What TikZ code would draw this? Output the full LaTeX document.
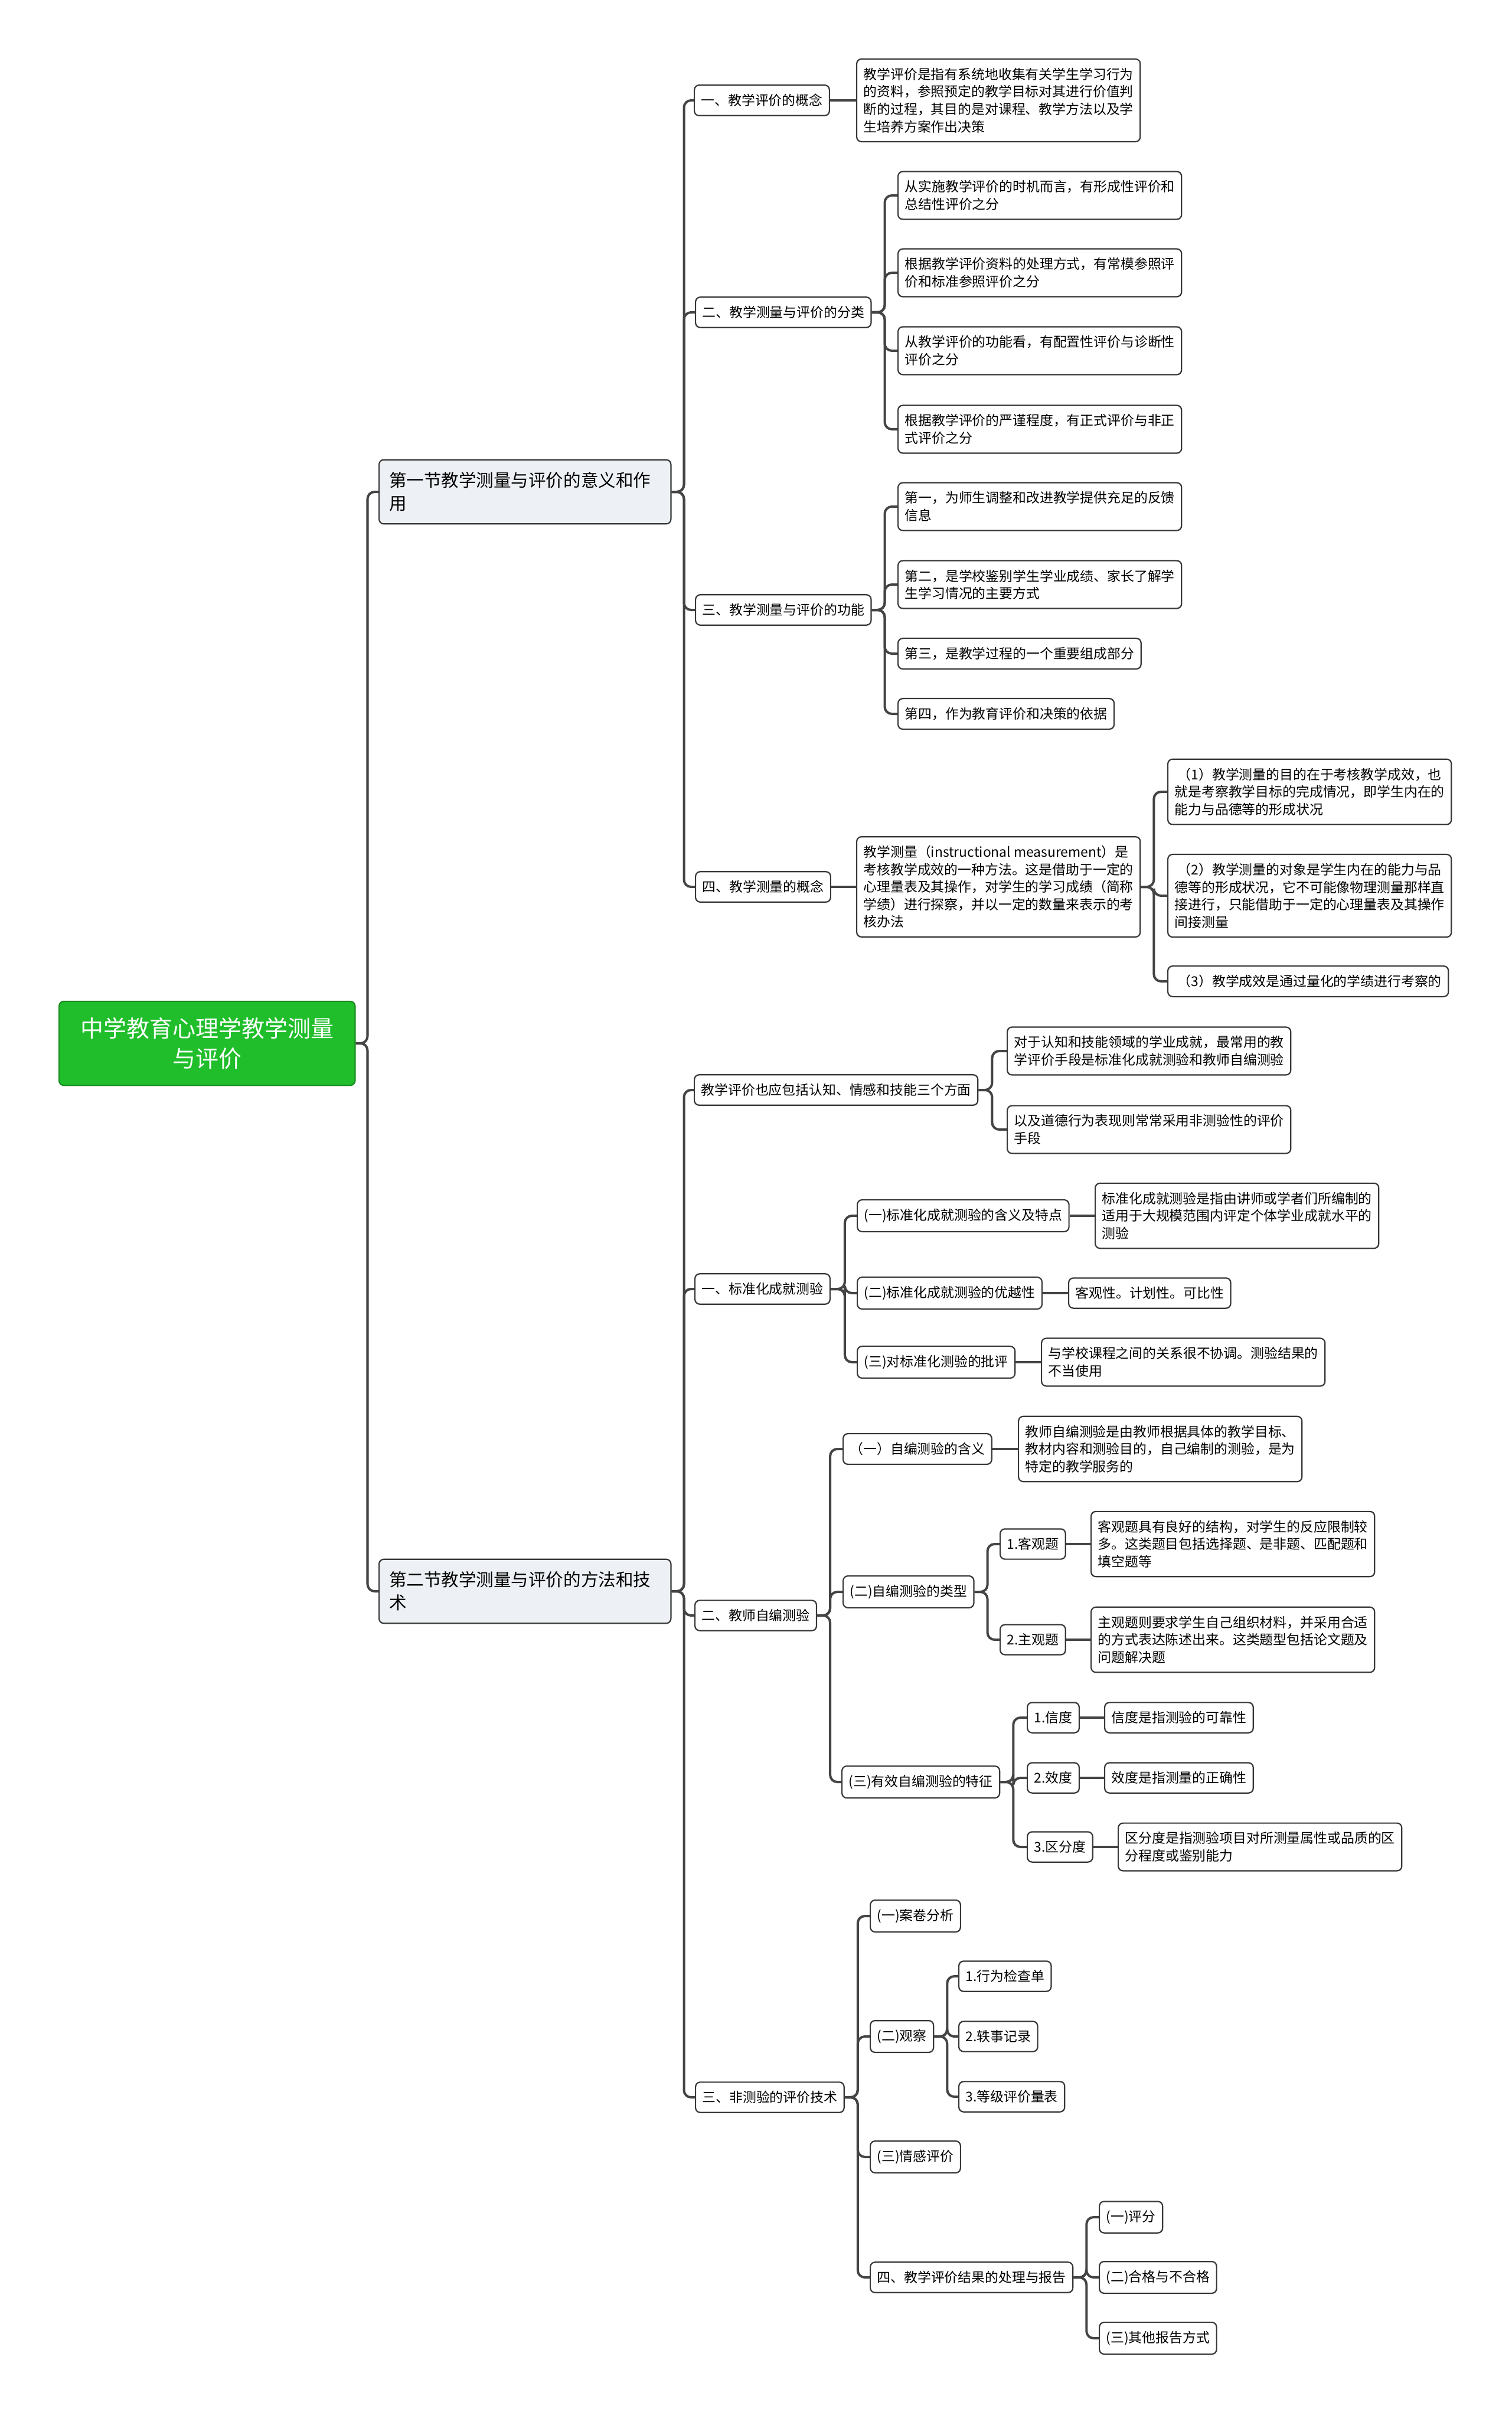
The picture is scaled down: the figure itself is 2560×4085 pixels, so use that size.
\documentclass[tikz,border=0pt]{standalone}
\usepackage{fontspec}
\newfontfamily\cjk{Noto Sans CJK SC}
\newcommand\leaffont{\cjk\fontsize{6.5pt}{8.4pt}\selectfont}
\newcommand\secfont{\cjk\fontsize{8.4pt}{11.1pt}\selectfont}
\newcommand\rootfont{\cjk\fontsize{11.1pt}{14.7pt}\selectfont}
\definecolor{linkgray}{RGB}{68,68,68}
\definecolor{boxline}{RGB}{56,56,56}
\definecolor{secfill}{RGB}{237,240,244}
\definecolor{rootgreen}{RGB}{31,190,42}
\definecolor{rootline}{RGB}{24,140,32}

\begin{document}
\begin{tikzpicture}[
  x=0.01cm, y=-0.01cm,
  box/.style={draw=boxline, line width=0.022cm, rounded corners=0.08cm, fill=white,
    inner xsep=0.115cm, inner ysep=0.15cm, align=left, font=\leaffont, anchor=west},
  sec/.style={box, fill=secfill, font=\secfont, text width=4.6cm,
    inner xsep=0.17cm, inner ysep=0.21cm},
  root/.style={box, fill=rootgreen, draw=rootline, text=white, font=\rootfont,
    align=center, text width=4.33cm, inner xsep=0.34cm, inner ysep=0.27cm},
  link/.style={draw=linkgray, line width=0.04cm, rounded corners=0.12cm},
]
\useasboundingbox (0,0) rectangle (2560,4085);

\node[root] (root) at (99,1767) {中学教育心理学教学测量\\与评价};
\node[sec] (secA) at (641,833) {第一节教学测量与评价的意义和作\\用};
\node[sec] (secB) at (641,2695) {第二节教学测量与评价的方法和技\\术};

\node[box] (defn) at (1175,170) {一、教学评价的概念};
\node[box] (defnT) at (1450,170) {教学评价是指有系统地收集有关学生学习行为\\的资料，参照预定的教学目标对其进行价值判\\断的过程，其目的是对课程、教学方法以及学\\生培养方案作出决策};

\node[box] (types) at (1177,529) {二、教学测量与评价的分类};
\node[box] (typeA) at (1520,331) {从实施教学评价的时机而言，有形成性评价和\\总结性评价之分};
\node[box] (typeB) at (1520,462) {根据教学评价资料的处理方式，有常模参照评\\价和标准参照评价之分};
\node[box] (typeC) at (1520,594) {从教学评价的功能看，有配置性评价与诊断性\\评价之分};
\node[box] (typeD) at (1520,727) {根据教学评价的严谨程度，有正式评价与非正\\式评价之分};

\node[box] (funcs) at (1177,1033) {三、教学测量与评价的功能};
\node[box] (funcA) at (1520,858) {第一，为师生调整和改进教学提供充足的反馈\\信息};
\node[box] (funcB) at (1520,990) {第二，是学校鉴别学生学业成绩、家长了解学\\生学习情况的主要方式};
\node[box] (funcC) at (1520,1107) {第三，是教学过程的一个重要组成部分};
\node[box] (funcD) at (1520,1209) {第四，作为教育评价和决策的依据};

\node[box] (meas) at (1177,1502) {四、教学测量的概念};
\node[box] (measT) at (1450,1502) {教学测量（instructional measurement）是\\考核教学成效的一种方法。这是借助于一定的\\心理量表及其操作，对学生的学习成绩（简称\\学绩）进行探察，并以一定的数量来表示的考\\核办法};
\node[box] (measA) at (1977,1341) {\ （1）教学测量的目的在于考核教学成效，也\\就是考察教学目标的完成情况，即学生内在的\\能力与品德等的形成状况};
\node[box] (measB) at (1977,1517) {\ （2）教学测量的对象是学生内在的能力与品\\德等的形成状况，它不可能像物理测量那样直\\接进行，只能借助于一定的心理量表及其操作\\间接测量};
\node[box] (measC) at (1977,1662) {\ （3）教学成效是通过量化的学绩进行考察的};

\node[box] (asp) at (1175,1846) {教学评价也应包括认知、情感和技能三个方面};
\node[box] (aspA) at (1705,1780) {对于认知和技能领域的学业成就，最常用的教\\学评价手段是标准化成就测验和教师自编测验};
\node[box] (aspB) at (1705,1913) {以及道德行为表现则常常采用非测验性的评价\\手段};

\node[box] (std) at (1176,2183) {一、标准化成就测验};
\node[box] (stdA) at (1451,2059) {(一)标准化成就测验的含义及特点};
\node[box] (stdAt) at (1854,2059) {标准化成就测验是指由讲师或学者们所编制的\\适用于大规模范围内评定个体学业成就水平的\\测验};
\node[box] (stdB) at (1451,2190) {(二)标准化成就测验的优越性};
\node[box] (stdBt) at (1809,2190) {客观性。计划性。可比性};
\node[box] (stdC) at (1451,2307) {(三)对标准化测验的批评};
\node[box] (stdCt) at (1763,2307) {与学校课程之间的关系很不协调。测验结果的\\不当使用};

\node[box] (self) at (1176,2736) {二、教师自编测验};
\node[box] (selfA) at (1427,2454) {（一）自编测验的含义};
\node[box] (selfAt) at (1724,2454) {教师自编测验是由教师根据具体的教学目标、\\教材内容和测验目的，自己编制的测验，是为\\特定的教学服务的};
\node[box] (selfB) at (1427,2696) {(二)自编测验的类型};
\node[box] (objq) at (1693,2615) {1.客观题};
\node[box] (objqT) at (1847,2615) {客观题具有良好的结构，对学生的反应限制较\\多。这类题目包括选择题、是非题、匹配题和\\填空题等};
\node[box] (subq) at (1693,2777) {2.主观题};
\node[box] (subqT) at (1847,2777) {主观题则要求学生自己组织材料，并采用合适\\的方式表达陈述出来。这类题型包括论文题及\\问题解决题};
\node[box] (selfC) at (1425,3018) {(三)有效自编测验的特征};
\node[box] (rel) at (1739,2909) {1.信度};
\node[box] (relT) at (1870,2909) {信度是指测验的可靠性};
\node[box] (val) at (1739,3011) {2.效度};
\node[box] (valT) at (1870,3011) {效度是指测量的正确性};
\node[box] (dis) at (1739,3128) {3.区分度};
\node[box] (disT) at (1893,3128) {区分度是指测验项目对所测量属性或品质的区\\分程度或鉴别能力};

\node[box] (nont) at (1177,3552) {三、非测验的评价技术};
\node[box] (ntA) at (1473,3245) {(一)案卷分析};
\node[box] (ntB) at (1473,3449) {(二)观察};
\node[box] (obsA) at (1623,3347) {1.行为检查单};
\node[box] (obsB) at (1623,3449) {2.轶事记录};
\node[box] (obsC) at (1623,3551) {3.等级评价量表};
\node[box] (ntC) at (1473,3653) {(三)情感评价};
\node[box] (ntD) at (1473,3857) {四、教学评价结果的处理与报告};
\node[box] (repA) at (1861,3755) {(一)评分};
\node[box] (repB) at (1861,3857) {(二)合格与不合格};
\node[box] (repC) at (1861,3960) {(三)其他报告方式};

\draw[link] (root.east) -- ++(20,0) |- (secA.west);
\draw[link] (root.east) -- ++(20,0) |- (secB.west);

\draw[link] (secA.east) -- ++(21,0) |- (defn.west);
\draw[link] (secA.east) -- ++(21,0) |- (types.west);
\draw[link] (secA.east) -- ++(21,0) |- (funcs.west);
\draw[link] (secA.east) -- ++(21,0) |- (meas.west);
\draw[link] (defn.east) -- (defnT.west);
\draw[link] (types.east) -- ++(22,0) |- (typeA.west);
\draw[link] (types.east) -- ++(22,0) |- (typeB.west);
\draw[link] (types.east) -- ++(22,0) |- (typeC.west);
\draw[link] (types.east) -- ++(22,0) |- (typeD.west);
\draw[link] (funcs.east) -- ++(22,0) |- (funcA.west);
\draw[link] (funcs.east) -- ++(22,0) |- (funcB.west);
\draw[link] (funcs.east) -- ++(22,0) |- (funcC.west);
\draw[link] (funcs.east) -- ++(22,0) |- (funcD.west);
\draw[link] (meas.east) -- (measT.west);
\draw[link] (measT.east) -- ++(22,0) |- (measA.west);
\draw[link] (measT.east) -- ++(22,0) |- (measB.west);
\draw[link] (measT.east) -- ++(22,0) |- (measC.west);

\draw[link] (secB.east) -- ++(21,0) |- (asp.west);
\draw[link] (secB.east) -- ++(21,0) |- (std.west);
\draw[link] (secB.east) -- ++(21,0) |- (self.west);
\draw[link] (secB.east) -- ++(21,0) |- (nont.west);
\draw[link] (asp.east) -- ++(23,0) |- (aspA.west);
\draw[link] (asp.east) -- ++(23,0) |- (aspB.west);
\draw[link] (std.east) -- ++(24,0) |- (stdA.west);
\draw[link] (std.east) -- ++(24,0) |- (stdB.west);
\draw[link] (std.east) -- ++(24,0) |- (stdC.west);
\draw[link] (stdA.east) -- (stdAt.west);
\draw[link] (stdB.east) -- (stdBt.west);
\draw[link] (stdC.east) -- (stdCt.west);
\draw[link] (self.east) -- ++(22,0) |- (selfA.west);
\draw[link] (self.east) -- ++(22,0) |- (selfB.west);
\draw[link] (self.east) -- ++(22,0) |- (selfC.west);
\draw[link] (selfA.east) -- (selfAt.west);
\draw[link] (selfB.east) -- ++(22,0) |- (objq.west);
\draw[link] (selfB.east) -- ++(22,0) |- (subq.west);
\draw[link] (objq.east) -- (objqT.west);
\draw[link] (subq.east) -- (subqT.west);
\draw[link] (selfC.east) -- ++(22,0) |- (rel.west);
\draw[link] (selfC.east) -- ++(22,0) |- (val.west);
\draw[link] (selfC.east) -- ++(22,0) |- (dis.west);
\draw[link] (rel.east) -- (relT.west);
\draw[link] (val.east) -- (valT.west);
\draw[link] (dis.east) -- (disT.west);
\draw[link] (nont.east) -- ++(22,0) |- (ntA.west);
\draw[link] (nont.east) -- ++(22,0) |- (ntB.west);
\draw[link] (nont.east) -- ++(22,0) |- (ntC.west);
\draw[link] (nont.east) -- ++(22,0) |- (ntD.west);
\draw[link] (ntB.east) -- ++(22,0) |- (obsA.west);
\draw[link] (ntB.east) -- ++(22,0) |- (obsB.west);
\draw[link] (ntB.east) -- ++(22,0) |- (obsC.west);
\draw[link] (ntD.east) -- ++(22,0) |- (repA.west);
\draw[link] (ntD.east) -- ++(22,0) |- (repB.west);
\draw[link] (ntD.east) -- ++(22,0) |- (repC.west);
\end{tikzpicture}
\end{document}
